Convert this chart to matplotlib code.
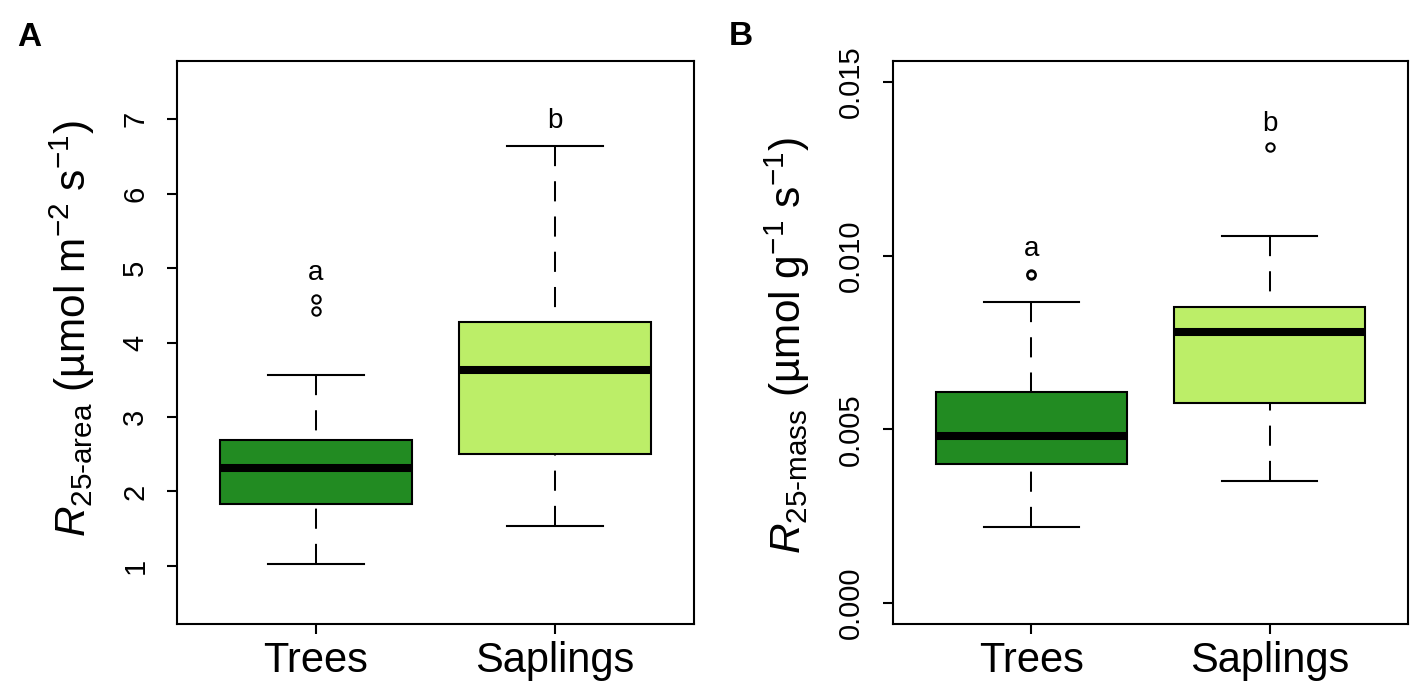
import matplotlib
matplotlib.use('Agg')
import matplotlib.pyplot as plt

plt.rcParams['font.family'] = ['Liberation Sans', 'DejaVu Sans']
plt.rcParams['mathtext.fontset'] = 'custom'
plt.rcParams['mathtext.rm'] = 'Liberation Sans'
plt.rcParams['mathtext.it'] = 'Liberation Sans:italic'

groups = ['Trees', 'Saplings']
box_colors = ['#228B22', '#BCEE68']

# panel A: R25-area
area_whislo = [1.02, 1.54]
area_q1 = [1.83, 2.50]
area_med = [2.31, 3.63]
area_q3 = [2.69, 4.27]
area_whishi = [3.57, 6.64]
area_fliers = [[4.43, 4.59], []]
area_letters = ['a', 'b']
area_letter_y = [4.93, 6.98]
area_ticks = [1, 2, 3, 4, 5, 6, 7]
area_ylim = (0.5, 7.5)

# panel B: R25-mass
mass_whislo = [0.0022, 0.00352]
mass_q1 = [0.0040, 0.00576]
mass_med = [0.00480, 0.00780]
mass_q3 = [0.00609, 0.00853]
mass_whishi = [0.00867, 0.01056]
mass_fliers = [[0.00943, 0.00948], [0.01313]]
mass_letters = ['a', 'b']
mass_letter_y = [0.0102, 0.0138]
mass_ticks = [0.000, 0.005, 0.010, 0.015]
mass_ylim = (0.0, 0.015)


def make_stats(lo, q1, med, q3, hi, fl):
    out = []
    for i in range(len(lo)):
        out.append({'whislo': lo[i], 'q1': q1[i], 'med': med[i], 'q3': q3[i],
                    'whishi': hi[i], 'fliers': fl[i]})
    return out


def draw_panel(ax, stats, letters, letter_y, ticks, ylim, tickfmt, ylabel, label_xy):
    pos = list(range(1, len(stats) + 1))
    bp = ax.bxp(stats, positions=pos, widths=0.8, patch_artist=True,
                boxprops=dict(edgecolor='black', linewidth=1.5),
                medianprops=dict(color='black', linewidth=5.8, solid_capstyle='butt'),
                whiskerprops=dict(color='black', linewidth=1.45, linestyle=(0, (10, 7.5))),
                capprops=dict(color='black', linewidth=1.5),
                capwidths=0.4,
                flierprops=dict(marker='o', markersize=6, markerfacecolor='none',
                                markeredgecolor='black', markeredgewidth=1.5))
    for patch, c in zip(bp['boxes'], box_colors):
        patch.set_facecolor(c)
    # start dashes at the cap, like R does
    for w in bp['whiskers']:
        w.set_ydata(w.get_ydata()[::-1])
    for p, t, y in zip(pos, letters, letter_y):
        ax.text(p, y, t, ha='center', va='center', fontsize=20)

    span = ylim[1] - ylim[0]
    ax.set_ylim(ylim[0] - 0.04 * span, ylim[1] + 0.04 * span)
    ax.set_xlim(0.5 - 0.08, 2.5 + 0.08)
    ax.set_xticks(pos)
    ax.set_xticklabels(groups, fontsize=30)
    ax.set_yticks(ticks)
    ax.set_yticklabels([tickfmt.format(t) for t in ticks], fontsize=21,
                       rotation=90, va='center')
    ax.tick_params(axis='y', length=7, width=1.5, pad=13)
    ax.tick_params(axis='x', length=7, width=1.5, pad=5)
    for s in ax.spines.values():
        s.set_linewidth(1.5)
    ax.set_ylabel(ylabel, fontsize=30.5)
    ax.yaxis.set_label_coords(*label_xy)


fig = plt.figure(figsize=(14.21, 6.96), dpi=100)
axA = fig.add_axes([0.1246, 0.1034, 0.3638, 0.8089])
axB = fig.add_axes([0.6284, 0.1034, 0.3624, 0.8089])

draw_panel(axA, make_stats(area_whislo, area_q1, area_med, area_q3, area_whishi, area_fliers),
           area_letters, area_letter_y, area_ticks, area_ylim, '{:d}',
           r'$\mathit{R}_{\text{25-area}}$ (µmol m$^{-2}$ s$^{-1}$)', (-0.155, 0.524))
draw_panel(axB, make_stats(mass_whislo, mass_q1, mass_med, mass_q3, mass_whishi, mass_fliers),
           mass_letters, mass_letter_y, mass_ticks, mass_ylim, '{:.3f}',
           r'$\mathit{R}_{\text{25-mass}}$ (µmol g$^{-1}$ s$^{-1}$)', (-0.157, 0.495))

fig.text(17 / 1421, 1 - 46 / 696, 'A', ha='left', va='baseline', fontsize=24, fontweight='bold')
fig.text(729 / 1421, 1 - 45 / 696, 'B', ha='left', va='baseline', fontsize=24, fontweight='bold')

fig.savefig('out.png', dpi=100)
